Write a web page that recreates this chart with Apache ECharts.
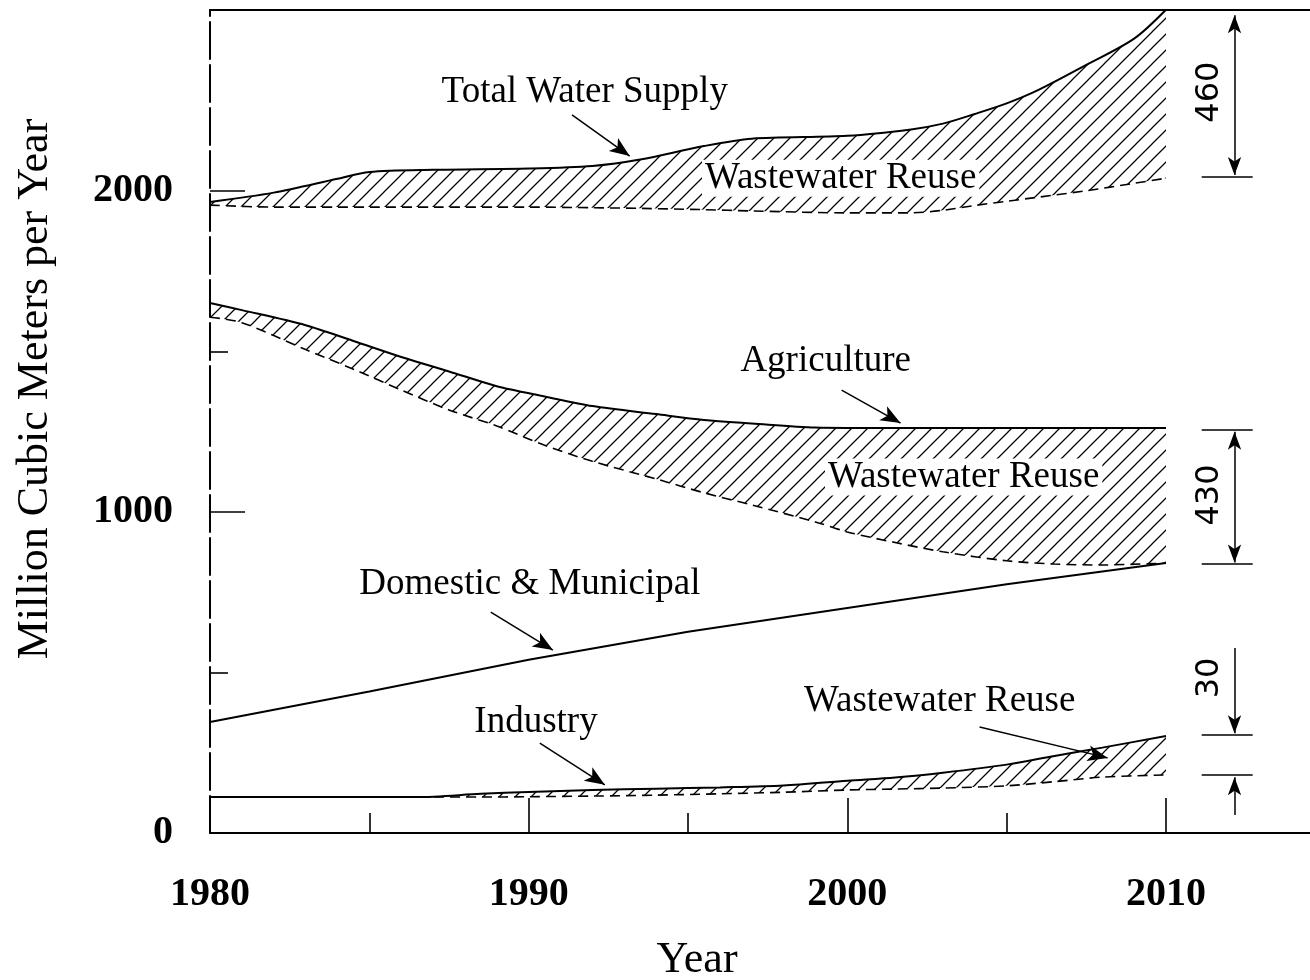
<!DOCTYPE html>
<html><head><meta charset="utf-8">
<script src="https://cdn.jsdelivr.net/npm/echarts@6/dist/echarts.min.js"></script>
<style>html,body{margin:0;padding:0;background:#fff}#chart{width:1310px;height:980px}</style>
</head><body><div id="chart"></div>
<script>
// ---------------- data ----------------
const totalYears     = [1980, 1982, 1984, 1985, 1987, 1990, 1992, 1993.5, 1995.5, 1997, 2000, 2002, 2003, 2004, 2005, 2006, 2007.5, 2009, 2010];
const totalSupply    = [1966, 1995, 2038, 2059, 2066, 2070, 2078, 2098, 2140, 2163, 2172, 2192, 2210, 2240, 2273, 2315, 2393, 2475, 2565];
const totalReuseBase = [1956, 1950, 1950, 1950, 1950, 1950, 1948, 1946, 1942, 1938, 1932, 1932, 1940, 1955, 1968, 1981, 2001, 2024, 2040];

const agriYears      = [1980, 1981, 1983, 1984.5, 1986, 1987.5, 1989, 1990.5, 1992, 1994, 1995.5, 1997, 1999, 2000, 2001.5, 2003, 2005, 2006.5, 2008, 2010];
const agriDemand     = [1651, 1629, 1582, 1533, 1483, 1438, 1392, 1360, 1330, 1305, 1287, 1276, 1263, 1262, 1262, 1262, 1262, 1262, 1262, 1262];
const agriReuseBase  = [1607, 1590, 1506, 1445, 1380, 1318, 1268, 1208, 1158, 1103, 1060, 1022, 969, 938, 905, 876, 848, 838, 835, 841];

const domYears       = [1980, 1985, 1990, 1995, 2000, 2005, 2010];
const domDemand      = [346, 441, 540, 627, 701, 775, 841];

const indYears       = [1980, 1986.5, 1988.5, 1990, 1992, 1994, 1996, 1998, 2000, 2001.5, 2003, 2005, 2006.5, 2008, 2010];
const indDemand      = [112, 112, 122, 128, 134, 138, 142, 148, 163, 173, 188, 213, 240, 266, 302];
const indReuseBase   = [112, 112, 112, 113, 115, 118, 122, 127, 134, 137, 140, 147, 160, 174, 181];

// axes ticks / labels
const xMin = 1980, xMax = 1980 + 30 * 1100 / 956, yMin = 0, yMax = 2564;
const xTicksMajor = [1980, 1990, 2000, 2010];
const xTicksMinor = [1985, 1995, 2005];
const xTickLabels = [1980, 1990, 2000, 2010];
const yTicksMajor = [1000, 2000];
const yTicksMinor = [500, 1500];
const yTickLabels = [0, 1000, 2000];

// annotation texts (data coordinates)
const noteTexts = ['Total Water Supply', 'Wastewater Reuse', 'Agriculture', 'Wastewater Reuse', 'Domestic & Municipal', 'Industry', 'Wastewater Reuse'];
const noteX     = [1991.76, 1999.79, 1999.32, 2003.65, 1990.04, 1990.23, 2002.9];
const noteY     = [2308, 2040, 1470, 1109, 776, 346, 411];
const noteBoxed = [false, true, false, true, false, false, false];

// pointer arrows: start -> end (data coordinates)
const pointerStart = [[1991.36, 2237], [1999.82, 1380], [1988.81, 688], [1990.35, 280], [2004.15, 330]];
const pointerEnd   = [[1993.17, 2109], [2001.67, 1277], [1990.76, 570], [1992.39, 150], [2008.17, 234]];

// dimension marks on the right
const dimTexts   = ['460', '430', '30'];
const dimTextX   = [2011.37, 2011.37, 2011.37];
const dimTextY   = [2308, 1053, 483];
const dimLevels  = [2044, 1255, 838, 305, 181];
const dimLineX   = [2011.12, 2012.72];
const dimArrowX  = 2012.15;
const dimArrows  = [[2548, 2050, 'both'], [1250, 843, 'both'], [576, 311, 'end'], [56, 174, 'end']];

// ---------------- hatch pattern ----------------
const hatch = document.createElement('canvas');
hatch.width = 16; hatch.height = 16;
(function(){
  const c = hatch.getContext('2d');
  c.fillStyle = '#fff'; c.fillRect(0, 0, 16, 16);
  c.strokeStyle = '#000'; c.lineWidth = 1.25;
  c.beginPath();
  for (const k of [0, 16, 32]) { c.moveTo(k + 4, -4); c.lineTo(-4, k + 4); }
  c.stroke();
})();

const pairs = (xs, ys) => xs.map((x, i) => [x, ys[i]]);
const SMOOTH = 0.3;

// hatched fill under the upper curve, then a white mask under the lower curve
function bandFill(xs, up, lo) {
  return [
    { type: 'line', data: pairs(xs, up), symbol: 'none', smooth: SMOOTH, silent: true,
      lineStyle: { width: 0, opacity: 0 },
      areaStyle: { color: { image: hatch, repeat: 'repeat' }, opacity: 1, origin: 'start' } },
    { type: 'line', data: pairs(xs, lo), symbol: 'none', smooth: SMOOTH, silent: true,
      lineStyle: { width: 0, opacity: 0 },
      areaStyle: { color: '#fff', opacity: 1, origin: 'start' } }
  ];
}
function bandLines(xs, up, lo) {
  return [
    { type: 'line', data: pairs(xs, lo), symbol: 'none', smooth: SMOOTH, silent: true,
      lineStyle: { color: '#000', width: 1.6, type: [10, 6] } },
    { type: 'line', data: pairs(xs, up), symbol: 'none', smooth: SMOOTH, silent: true,
      lineStyle: { color: '#000', width: 2 } }
  ];
}

const serifFont = 'Liberation Serif';
const markData = [];
pointerStart.forEach((s, i) => {
  markData.push([{ coord: s, symbol: 'none' }, { coord: pointerEnd[i], symbol: 'arrow', symbolSize: [12, 20] }]);
});
dimLevels.forEach(v => {
  markData.push([{ coord: [dimLineX[0], v], symbol: 'none' }, { coord: [dimLineX[1], v], symbol: 'none' }]);
});
dimArrows.forEach(a => {
  markData.push([{ coord: [dimArrowX, a[0]], symbol: a[2] === 'both' ? 'arrow' : 'none', symbolSize: [10, 18] },
                 { coord: [dimArrowX, a[1]], symbol: 'arrow', symbolSize: [10, 18] }]);
});

const labelData = noteTexts.map((t, i) => ({
  value: [noteX[i], noteY[i]], name: t,
  label: noteBoxed[i] ? { backgroundColor: '#fff', padding: [0, 3] } : {}
})).concat(dimTexts.map((t, i) => ({
  value: [dimTextX[i], dimTextY[i]], name: t,
  label: { rotate: 90, fontFamily: 'DejaVu Sans', fontSize: 32 }
})));

const axisFont = { fontFamily: serifFont, fontWeight: 'bold', fontSize: 40, color: '#000' };
const tickStyle = { color: '#000', width: 1.6 };

const option = {
  backgroundColor: '#fff',
  animation: false,
  grid: { left: 210, right: 0, top: 10, bottom: 147, containLabel: false },
  xAxis: [
    { type: 'value', min: xMin, max: xMax, position: 'bottom', z: 10,
      axisLine: { show: true, onZero: false, lineStyle: { color: '#000', width: 2 } },
      axisTick: { show: true, inside: true, length: 20, customValues: xTicksMinor, lineStyle: tickStyle },
      axisLabel: { show: false }, splitLine: { show: false } },
    { type: 'value', min: xMin, max: xMax, position: 'bottom', z: 10,
      axisLine: { show: false },
      axisTick: { show: true, inside: true, length: 35, customValues: xTicksMajor, lineStyle: tickStyle },
      axisLabel: Object.assign({ show: true, customValues: xTickLabels, margin: 42, formatter: v => String(v) }, axisFont),
      splitLine: { show: false } },
    { type: 'value', min: xMin, max: xMax, position: 'top', z: 10,
      axisLine: { show: true, onZero: false, lineStyle: { color: '#000', width: 2 } },
      axisTick: { show: false }, axisLabel: { show: false }, splitLine: { show: false } }
  ],
  yAxis: [
    { type: 'value', min: yMin, max: yMax, position: 'left', z: 10,
      axisLine: { show: true, onZero: false, lineStyle: { color: '#000', width: 2, type: [37, 6] } },
      axisTick: { show: true, inside: true, length: 18, customValues: yTicksMinor, lineStyle: tickStyle },
      axisLabel: Object.assign({ show: true, customValues: yTickLabels, margin: 37, formatter: v => String(v) }, axisFont),
      splitLine: { show: false } },
    { type: 'value', min: yMin, max: yMax, position: 'left', z: 10,
      axisLine: { show: false },
      axisTick: { show: true, inside: true, length: 35, customValues: yTicksMajor, lineStyle: tickStyle },
      axisLabel: { show: false }, splitLine: { show: false } }
  ],
  graphic: [
    { type: 'text', x: 697, y: 960, silent: true,
      style: { text: 'Year', font: '44px "Liberation Serif"', fill: '#000', align: 'center', verticalAlign: 'middle', textAlign: 'center', textVerticalAlign: 'middle' } },
    { type: 'text', x: 35, y: 389, rotation: Math.PI / 2, silent: true,
      style: { text: 'Million Cubic Meters per Year', font: '44px "Liberation Serif"', fill: '#000', align: 'center', verticalAlign: 'middle', textAlign: 'center', textVerticalAlign: 'middle' } }
  ],
  series: [].concat(
    bandFill(totalYears, totalSupply, totalReuseBase),
    bandFill(agriYears, agriDemand, agriReuseBase),
    bandFill(indYears, indDemand, indReuseBase),
    bandLines(totalYears, totalSupply, totalReuseBase),
    bandLines(agriYears, agriDemand, agriReuseBase),
    bandLines(indYears, indDemand, indReuseBase),
    [{ type: 'line', name: 'domestic', data: pairs(domYears, domDemand), symbol: 'none', smooth: false,
       lineStyle: { color: '#000', width: 2 }, silent: true },
     { type: 'scatter', name: 'notes', data: labelData, symbolSize: 0, silent: true, z: 12,
       itemStyle: { opacity: 1 },
       label: { show: true, position: 'inside', formatter: p => p.name, fontFamily: serifFont, fontSize: 37, color: '#000', opacity: 1 },
       markLine: { silent: true, symbol: 'none', label: { show: false }, emphasis: { disabled: true },
         lineStyle: { color: '#000', width: 1.5, type: 'solid', opacity: 1 }, data: markData } }]
  )
};

const chart = echarts.init(document.getElementById('chart'), null, { renderer: 'canvas' });
chart.setOption(option);
</script></body></html>
